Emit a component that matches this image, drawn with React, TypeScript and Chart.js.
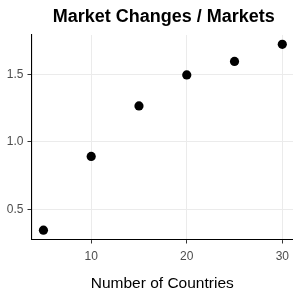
import React, { useEffect, useRef } from "react";
import { Chart, registerables } from "chart.js";

Chart.register(...registerables);

const countries = [5, 10, 15, 20, 25, 30];
const marketChanges = [0.345, 0.892, 1.266, 1.496, 1.596, 1.723];
const xTicks = [10, 20, 30];
const yTicks = [0.5, 1.0, 1.5];
const chartTitle = "Market Changes / Markets";
const xTitle = "Number of Countries";

const FONT = "'Liberation Sans', Arial, Helvetica, sans-serif";

const panelTitlePlugin = {
  id: "panelTitle",
  afterDraw(chart: any) {
    const { ctx, chartArea } = chart;
    ctx.save();
    ctx.fillStyle = "#000000";
    ctx.font = `bold 18px ${FONT}`;
    ctx.textAlign = "center";
    ctx.textBaseline = "alphabetic";
    ctx.fillText(chartTitle, (chartArea.left + chartArea.right) / 2 + 1.5, 21.5);
    ctx.restore();
  },
};

export default function App() {
  const ref = useRef<HTMLCanvasElement | null>(null);

  useEffect(() => {
    if (!ref.current) return;
    const chart = new Chart(ref.current, {
      type: "scatter",
      data: {
        datasets: [
          {
            data: countries.map((c, i) => ({ x: c, y: marketChanges[i] })),
            backgroundColor: "#000000",
            borderColor: "#000000",
            pointRadius: 4.6,
            pointHoverRadius: 4.6,
            borderWidth: 0,
            clip: false,
          },
        ],
      },
      plugins: [panelTitlePlugin],
      options: {
        animation: false,
        responsive: false,
        devicePixelRatio: 1,
        layout: {
          autoPadding: false,
          padding: { left: 0, right: 0, top: 35, bottom: 0 },
        },
        plugins: {
          legend: { display: false },
          tooltip: { enabled: false },
          title: { display: false },
        },
        scales: {
          x: {
            type: "linear",
            min: 3.75,
            max: 31.12,
            afterBuildTicks: (scale: any) => {
              scale.ticks = xTicks.map((v) => ({ value: v }));
            },
            afterFit: (scale: any) => {
              scale.height = 48.5;
              scale.paddingLeft = 0;
              scale.paddingRight = 0;
            },
            grid: {
              color: "#ebebeb",
              lineWidth: 1,
              tickColor: "#333333",
              tickLength: 4,
              drawTicks: true,
            },
            border: { display: true, color: "#000000", width: 1.1 },
            ticks: {
              color: "#4d4d4d",
              padding: 6,
              font: { family: FONT, size: 12 },
              callback: (v: any) => String(v),
            },
            title: {
              display: true,
              text: xTitle,
              color: "#000000",
              font: { family: FONT, size: 15.5, lineHeight: 0.6 },
              padding: { top: 0, bottom: 0 },
            },
          },
          y: {
            type: "linear",
            min: 0.276,
            max: 1.792,
            afterBuildTicks: (scale: any) => {
              scale.ticks = yTicks.map((v) => ({ value: v }));
            },
            afterFit: (scale: any) => {
              scale.width = 31.5;
              scale.paddingTop = 0;
              scale.paddingBottom = 0;
            },
            grid: {
              color: "#ebebeb",
              lineWidth: 1,
              tickColor: "#333333",
              tickLength: 4,
              drawTicks: true,
            },
            border: { display: true, color: "#000000", width: 1.1 },
            ticks: {
              color: "#4d4d4d",
              padding: 4,
              font: { family: FONT, size: 12 },
              callback: (v: any) => Number(v).toFixed(1),
            },
          },
        },
      },
    });
    return () => chart.destroy();
  }, []);

  return (
    <div
      style={{
        position: "absolute",
        left: 0,
        top: 0,
        width: 293,
        height: 288,
        background: "#ffffff",
      }}
    >
      <canvas ref={ref} width={293} height={288} />
    </div>
  );
}
